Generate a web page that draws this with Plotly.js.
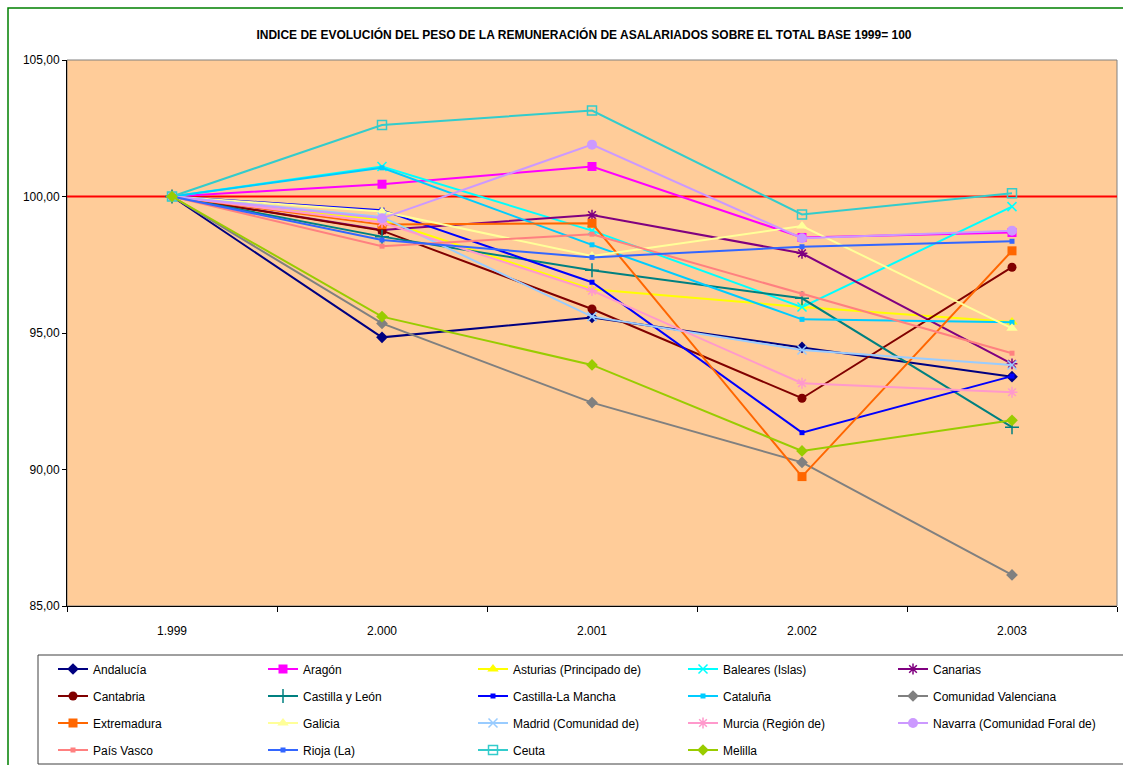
<!DOCTYPE html>
<html>
<head>
<meta charset="utf-8">
<script src="https://cdn.plot.ly/plotly-3.0.1.min.js"></script>
<style>html,body{margin:0;padding:0;background:#fff;}#chart{width:1123px;height:765px;}</style>
</head>
<body>
<div id="chart"></div>
<script>
const years = ["1.999", "2.000", "2.001", "2.002", "2.003"];

const andalucia = [100, 94.84, 95.57, 94.47, 93.40];
const aragon = [100, 100.45, 101.10, 98.50, 98.68];
const asturias = [100, 99.15, 96.60, 95.95, 95.40];
const baleares = [100, 101.10, 98.75, 95.95, 99.63];
const canarias = [100, 98.77, 99.32, 97.92, 93.87];
const cantabria = [100, 98.75, 95.88, 92.61, 97.41];
const castillaLeon = [100, 98.53, 97.30, 96.27, 91.55];
const castillaMancha = [100, 99.50, 96.86, 91.35, 93.42];
const cataluna = [100, 101.05, 98.23, 95.50, 95.39];
const valenciana = [100, 95.35, 92.45, 90.26, 86.14];
const extremadura = [100, 98.97, 99.02, 89.74, 98.01];
const galicia = [100, 99.45, 97.82, 98.92, 95.17];
const madrid = [100, 99.25, 95.60, 94.38, 93.83];
const murcia = [100, 99.05, 96.55, 93.16, 92.83];
const navarra = [100, 99.20, 101.90, 98.47, 98.75];
const paisVasco = [100, 98.18, 98.62, 96.43, 94.26];
const rioja = [100, 98.41, 97.77, 98.16, 98.36];
const ceuta = [100, 102.62, 103.15, 99.34, 100.12];
const melilla = [100, 95.60, 93.83, 90.68, 91.80];

const baseLine = 100;

const seriesNames = ["Andalucía", "Aragón", "Asturias (Principado de)", "Baleares (Islas)", "Canarias",
  "Cantabria", "Castilla y León", "Castilla-La Mancha", "Cataluña", "Comunidad Valenciana",
  "Extremadura", "Galicia", "Madrid (Comunidad de)", "Murcia (Región de)", "Navarra (Comunidad Foral de)",
  "País Vasco", "Rioja (La)", "Ceuta", "Melilla"];
const seriesValues = [andalucia, aragon, asturias, baleares, canarias,
  cantabria, castillaLeon, castillaMancha, cataluna, valenciana,
  extremadura, galicia, madrid, murcia, navarra,
  paisVasco, rioja, ceuta, melilla];

const styles = [
  {c: "#000080", s: "diamond", z: 9},
  {c: "#FF00FF", s: "square", z: 9},
  {c: "#FFFF00", s: "triangle-up", z: 10},
  {c: "#00FFFF", s: "x-thin-open", z: 9},
  {c: "#800080", s: "asterisk-open", z: 9},
  {c: "#800000", s: "circle", z: 9},
  {c: "#008080", s: "cross-thin-open", z: 10},
  {c: "#0000FF", s: "square", z: 5},
  {c: "#00CCFF", s: "square", z: 5},
  {c: "#808080", s: "diamond", z: 9},
  {c: "#FF6600", s: "square", z: 9},
  {c: "#FFFF99", s: "triangle-up", z: 10},
  {c: "#99CCFF", s: "x-thin-open", z: 9},
  {c: "#FF99CC", s: "asterisk-open", z: 9},
  {c: "#CC99FF", s: "circle", z: 10},
  {c: "#FF8080", s: "square", z: 5},
  {c: "#3366FF", s: "square", z: 5},
  {c: "#33CCCC", s: "square-open", z: 9},
  {c: "#99CC00", s: "diamond", z: 9}
];

const legendIds = ["legend", "legend2", "legend3", "legend4"];

const traces = seriesNames.map((n, i) => ({
  type: "scatter",
  mode: "lines+markers",
  name: n,
  x: years,
  y: seriesValues[i],
  legend: legendIds[Math.floor(i / 5)],
  line: {color: styles[i].c, width: 2},
  marker: {color: styles[i].c, symbol: styles[i].s, size: styles[i].z,
           line: {color: styles[i].c, width: styles[i].s.indexOf("open") >= 0 ? 1.5 : 0}},
  cliponaxis: false
}));

// plot-area geometry in px for paper-coordinate helpers
const L = 67, R = 1117, T = 60, B = 606;
const px = x => (x - L) / (R - L);
const py = y => (B - y) / (B - T);

const rowY = [669, 696, 723, 750];
function legendRow(k) {
  return {
    orientation: "h",
    x: px(53), xanchor: "left",
    y: py(rowY[k]), yanchor: "middle",
    entrywidth: 165, entrywidthmode: "pixels",
    traceorder: "normal",
    bgcolor: "rgba(0,0,0,0)",
    borderwidth: 0,
    font: {size: 12, family: "Liberation Sans, Arial, sans-serif", color: "#000"},
    tracegroupgap: 0
  };
}

const layout = {
  width: 1123, height: 765,
  margin: {l: L, r: 1123 - R, t: T, b: 765 - B, pad: 0, autoexpand: false},
  paper_bgcolor: "#FFFFFF",
  plot_bgcolor: "#FFCC99",
  separators: ",.",
  font: {family: "Liberation Sans, Arial, sans-serif", size: 12, color: "#000"},
  title: {
    text: "<b>INDICE DE EVOLUCIÓN DEL PESO DE LA REMUNERACIÓN DE ASALARIADOS SOBRE EL TOTAL BASE 1999= 100</b>",
    font: {family: "Liberation Sans Narrow, Liberation Sans, Arial, sans-serif", size: 12, color: "#000"},
    x: 0.52, xanchor: "center", y: 1 - 35 / 765, yanchor: "middle"
  },
  xaxis: {
    type: "category",
    categoryorder: "array", categoryarray: years,
    range: [-0.5, 4.5],
    tickson: "boundaries",
    ticks: "outside", ticklen: 5, tickcolor: "#000",
    ticklabelstandoff: 14,
    showline: true, linecolor: "#000", linewidth: 1,
    showgrid: false, zeroline: false,
    tickfont: {size: 12}
  },
  yaxis: {
    range: [85, 105], dtick: 5, tick0: 85,
    tickformat: ".2f",
    ticks: "outside", ticklen: 4, tickcolor: "#000",
    showline: true, linecolor: "#000", linewidth: 1,
    showgrid: false, zeroline: false,
    tickfont: {size: 12}
  },
  showlegend: true,
  legend: legendRow(0),
  legend2: legendRow(1),
  legend3: legendRow(2),
  legend4: legendRow(3),
  shapes: [
    {type: "rect", xref: "paper", yref: "paper", x0: 0, x1: 1, y0: 0, y1: 1,
     line: {color: "#808080", width: 1}, layer: "below"},
    {type: "line", xref: "paper", yref: "y", x0: 0, x1: 1, y0: baseLine, y1: baseLine,
     line: {color: "#FF0000", width: 2}, layer: "below"},
    {type: "rect", xref: "paper", yref: "paper", x0: px(38), x1: px(1135), y0: py(655), y1: py(764),
     line: {color: "#404040", width: 1}, fillcolor: "#FFFFFF", layer: "below"},
    {type: "rect", xref: "paper", yref: "paper", x0: px(8), x1: px(1140), y0: py(8), y1: py(780),
     line: {color: "#008000", width: 1.5}, fillcolor: "rgba(0,0,0,0)", layer: "above"}
  ]
};

Plotly.newPlot("chart", traces, layout, {displayModeBar: false, staticPlot: true});
</script>
</body>
</html>
